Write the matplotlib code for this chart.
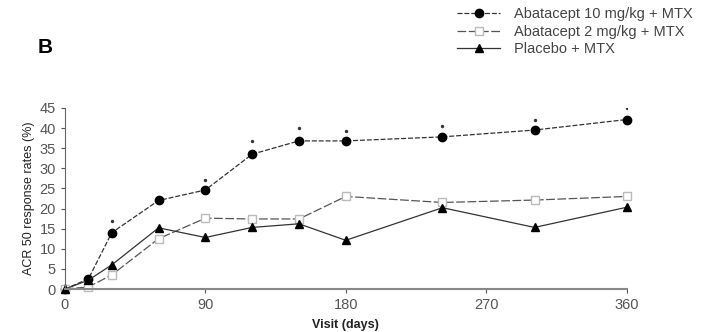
import matplotlib.pyplot as plt

plt.rcParams['font.family'] = ['Liberation Sans', 'DejaVu Sans']

days = [0, 15, 30, 60, 90, 120, 150, 180, 242, 301, 360]
aba10 = [0, 2.5, 14, 22, 24.6, 33.5, 36.8, 36.8, 37.8, 39.5, 42.1]
aba2 = [0, 0.5, 3.5, 12.5, 17.6, 17.4, 17.4, 23, 21.5, 22.1, 23]
placebo = [0, 2.2, 6, 15.2, 12.8, 15.3, 16.2, 12.1, 20.2, 15.3, 20.3]

# significance marks above the 10 mg/kg series
star_days = [30, 90, 120, 150, 180, 242, 301, 360]
star_y = [17, 27, 36.8, 40, 39.3, 40.5, 42, 45]

fig = plt.figure(figsize=(7.19, 3.32), dpi=100)
ax = fig.add_axes([0.0904, 0.1295, 0.781, 0.5455])

ax.plot(days, aba10, color='#333333', lw=0.9, ls=(0, (4, 1.5)),
        marker='o', ms=6, mfc='black', mec='black',
        label='Abatacept 10 mg/kg + MTX')
ax.plot(days, aba2, color='#555555', lw=0.9, ls=(0, (7, 2)),
        marker='s', ms=5.5, mfc='white', mec='#bbbbbb',
        label='Abatacept 2 mg/kg + MTX')
ax.plot(days, placebo, color='#333333', lw=0.9, ls='-',
        marker='^', ms=6, mfc='black', mec='black',
        label='Placebo + MTX')
ax.scatter(star_days, star_y, s=2, color='#333333', marker='o')

ax.set_xlim(0, 360)
ax.set_ylim(0, 45)
ax.set_xticks([0, 90, 180, 270, 360])
ax.set_yticks(range(0, 46, 5))
ax.spines['top'].set_visible(False)
ax.spines['right'].set_visible(False)
ax.spines['left'].set_color('#666666')
ax.spines['bottom'].set_color('#888888')
ax.spines['bottom'].set_linewidth(1.5)
ax.tick_params(direction='out', length=3, labelsize=10.5, colors='#555555',
               labelcolor='#555555')
for sp in ax.spines.values():
    sp.set_clip_on(False)
for l in ax.lines:
    l.set_clip_on(False)

ax.set_ylabel('ACR 50 response rates (%)', fontsize=9, color='#222222',
              labelpad=3)
ax.set_xlabel('Visit (days)', fontsize=9, fontweight='bold', color='#222222',
              labelpad=5)

fig.text(0.052, 0.84, 'B', fontsize=15, fontweight='bold')

fig.legend(loc='upper left', bbox_to_anchor=(0.617, 1.018), frameon=False,
           fontsize=10.5, handlelength=3.0, labelspacing=0.25, handletextpad=0.9,
           labelcolor='#444444')

fig.savefig('out.png', dpi=100)
